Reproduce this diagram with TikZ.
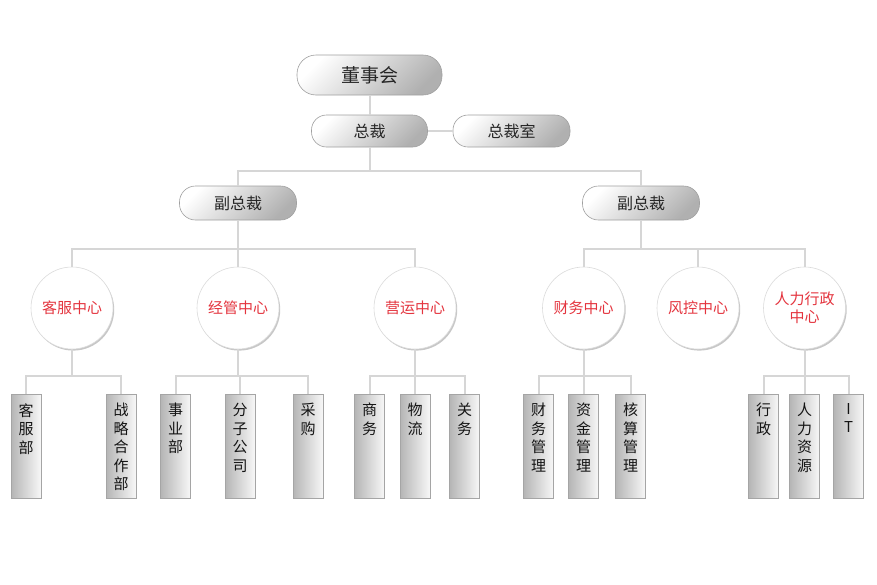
\documentclass[tikz,border=0pt]{standalone}
\usepackage{fontspec}
\newfontfamily\cjk{Noto Sans CJK SC}
\usetikzlibrary{shadows}
\definecolor{connc}{RGB}{214,214,214}
\definecolor{pillb}{RGB}{160,160,160}
\definecolor{redt}{RGB}{228,52,62}
\definecolor{boxb}{RGB}{165,165,165}
\pgfdeclareradialshading{circsh}{\pgfpoint{-9bp}{9bp}}{color(0bp)=(white); color(30bp)=(white); color(48bp)=(black!8); color(62bp)=(black!22)}
\newcommand\vtxt[1]{\parbox[c][104pt][t]{30pt}{\centering\fontsize{15}{18.5}\selectfont\vspace*{9pt}#1\par}}
\begin{document}
\begin{tikzpicture}[x=1pt,y=-1pt,
  every node/.style={font=\cjk},
  pill/.style={draw=pillb, line width=0.6pt, rounded corners=15pt, top color=white, bottom color=gray!62, shading angle=45,
    minimum width=116pt, minimum height=32pt, inner sep=0pt, text=black!85, font=\cjk\fontsize{16}{19}\selectfont},
  bigpill/.style={pill, minimum width=145pt, minimum height=40pt, rounded corners=19pt, font=\cjk\fontsize{19}{22}\selectfont},
  vppill/.style={pill, minimum width=117pt, minimum height=34pt, rounded corners=16pt},
  centre/.style={circle, draw=gray!28, line width=0.6pt, minimum size=82pt, inner sep=0pt,
    shading=circsh,
    drop shadow={shadow xshift=1.2pt, shadow yshift=-1.6pt, opacity=0.22, fill=black},
    text=redt, align=center, font=\cjk\fontsize{15}{17.5}\selectfont},
  dept/.style={draw=boxb, line width=0.6pt, left color=gray!58, right color=gray!6,
    minimum width=30pt, minimum height=104pt, inner sep=0pt, anchor=north, text=black!92},
  conn/.style={draw=connc, line width=2pt}
]
\useasboundingbox (0,0) rectangle (877,584);
\fill[white] (0,0) rectangle (877,584);

% levels
\coordinate (b1) at (0,171);
\coordinate (b2) at (0,249);
\coordinate (b3) at (0,376);

% top
\node[bigpill] (dsh) at (369.5,75) {董事会};
\node[pill] (zc) at (369.5,131) {总裁};
\node[pill, minimum width=117pt] (zcs) at (511.5,131) {总裁室};
\node[vppill] (fz1) at (238,203) {副总裁};
\node[vppill] (fz2) at (641,203) {副总裁};

% centres
\node[centre] (kf) at (72,308) {客服中心};
\node[centre] (jg) at (238,308) {经管中心};
\node[centre] (yy) at (415,308) {营运中心};
\node[centre] (cw) at (583.5,308) {财务中心};
\node[centre] (fk) at (698,308) {风控中心};
\node[centre] (rl) at (804.5,308) {人力行政\\中心};

% departments
\node[dept] (kfb) at (26,394) {\vtxt{客\\服\\部}};
\node[dept] (zl) at (121,394) {\vtxt{战\\略\\合\\作\\部}};
\node[dept] (sy) at (175.5,394) {\vtxt{事\\业\\部}};
\node[dept] (fzgs) at (240,394) {\vtxt{分\\子\\公\\司}};
\node[dept] (cg) at (308,394) {\vtxt{采\\购}};
\node[dept] (sw) at (369.5,394) {\vtxt{商\\务}};
\node[dept] (wl) at (415,394) {\vtxt{物\\流}};
\node[dept] (gw) at (464.5,394) {\vtxt{关\\务}};
\node[dept] (cwgl) at (538.5,394) {\vtxt{财\\务\\管\\理}};
\node[dept] (zjgl) at (583.5,394) {\vtxt{资\\金\\管\\理}};
\node[dept] (hsgl) at (630.5,394) {\vtxt{核\\算\\管\\理}};
\node[dept] (xz) at (763.5,394) {\vtxt{行\\政}};
\node[dept] (rlzy) at (804.5,394) {\vtxt{人\\力\\资\\源}};
\node[dept] (it) at (848.5,394) {\vtxt{I\\T}};

% connectors
\draw[conn] (dsh) -- (zc);
\draw[conn] (zc) -- (zcs);
\draw[conn] (zc.south) -- (zc.south |- b1);
\draw[conn] (fz1.north) |- (fz2.north |- b1) -- (fz2.north);

\draw[conn] (fz1.south) -- (fz1.south |- b2);
\draw[conn] (kf.north) |- (yy.north |- b2) -- (yy.north);
\draw[conn] (jg.north) -- (jg.north |- b2);
\draw[conn] (fz2.south) -- (fz2.south |- b2);
\draw[conn] (cw.north) |- (rl.north |- b2) -- (rl.north);
\draw[conn] (fk.north) -- (fk.north |- b2);

\draw[conn] (kf.south) -- (kf.south |- b3);
\draw[conn] (kfb.north) |- (zl.north |- b3) -- (zl.north);
\draw[conn] (jg.south) -- (jg.south |- b3);
\draw[conn] (sy.north) |- (cg.north |- b3) -- (cg.north);
\draw[conn] (fzgs.north) -- (fzgs.north |- b3);
\draw[conn] (yy.south) -- (yy.south |- b3);
\draw[conn] (sw.north) |- (gw.north |- b3) -- (gw.north);
\draw[conn] (wl.north) -- (wl.north |- b3);
\draw[conn] (cw.south) -- (cw.south |- b3);
\draw[conn] (cwgl.north) |- (hsgl.north |- b3) -- (hsgl.north);
\draw[conn] (zjgl.north) -- (zjgl.north |- b3);
\draw[conn] (rl.south) -- (rl.south |- b3);
\draw[conn] (xz.north) |- (it.north |- b3) -- (it.north);
\draw[conn] (rlzy.north) -- (rlzy.north |- b3);
\end{tikzpicture}
\end{document}
